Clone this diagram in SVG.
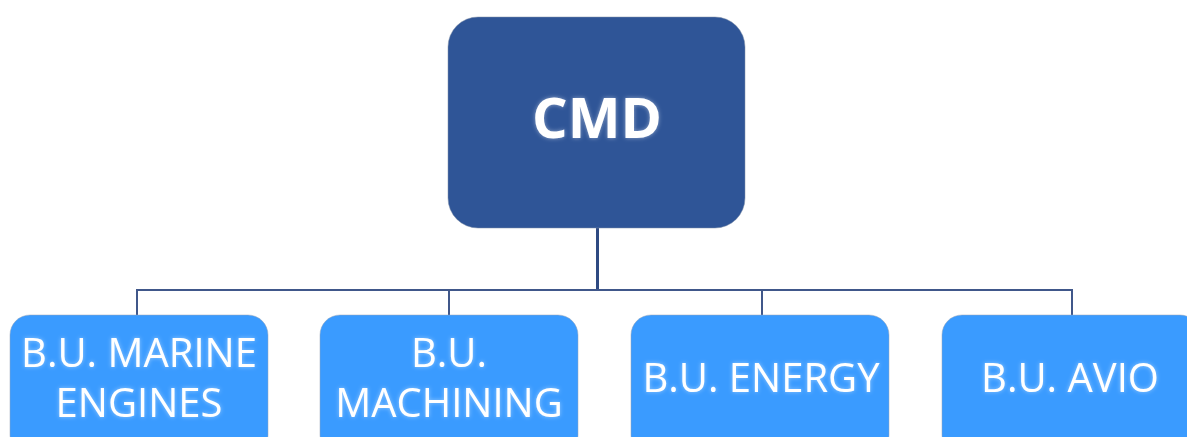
<svg xmlns="http://www.w3.org/2000/svg" width="1187" height="437" viewBox="0 0 1187 437">
  <defs>
    <filter id="glow" x="-10%" y="-30%" width="120%" height="160%">
      <feGaussianBlur in="SourceAlpha" stdDeviation="2" result="b"/>
      <feFlood flood-color="#ffffff" flood-opacity="0.45"/>
      <feComposite operator="in" in2="b" result="g"/>
      <feMerge><feMergeNode in="g"/><feMergeNode in="SourceGraphic"/></feMerge>
    </filter>
  </defs>
  <style>
    .root { fill: #2f5597; stroke: #7f8fa8; stroke-opacity: 0.5; stroke-width: 1; }
    .unit { fill: #3a9bff; stroke: #9aa6b8; stroke-opacity: 0.5; stroke-width: 1; }
    .link { fill: none; stroke: #40578a; stroke-width: 2; }
    .trunk { fill: none; stroke: #2f4a82; stroke-width: 3; }
    text { fill: #ffffff; font-family: "Open Sans", "Liberation Sans", sans-serif; text-anchor: middle; }
    .big { font-size: 56px; font-weight: bold; }
    .lbl { font-size: 40px; }
  </style>

  <!-- connectors -->
  <g id="connectors">
    <line class="trunk" x1="597.5" y1="228" x2="597.5" y2="290"/>
    <polyline class="link" points="137,315 137,290 1072,290 1072,315"/>
    <line class="link" x1="449" y1="290" x2="449" y2="315"/>
    <line class="link" x1="762" y1="290" x2="762" y2="315"/>
  </g>

  <g id="node-cmd">
    <rect class="root" x="448" y="17" width="297" height="211" rx="30" ry="30"/>
    <text class="big" x="597" y="138" filter="url(#glow)">CMD</text>
  </g>

  <g id="node-marine">
    <rect class="unit" x="10" y="315" width="258" height="140" rx="20" ry="20"/>
    <text class="lbl" x="139" y="367" filter="url(#glow)">B.U. MARINE</text>
    <text class="lbl" x="139" y="417" filter="url(#glow)">ENGINES</text>
  </g>

  <g id="node-machining">
    <rect class="unit" x="320" y="315" width="258" height="140" rx="20" ry="20"/>
    <text class="lbl" x="449" y="367" filter="url(#glow)">B.U.</text>
    <text class="lbl" x="449" y="417" filter="url(#glow)">MACHINING</text>
  </g>

  <g id="node-energy">
    <rect class="unit" x="631" y="315" width="258" height="140" rx="20" ry="20"/>
    <text class="lbl" x="761" y="392" filter="url(#glow)">B.U. ENERGY</text>
  </g>

  <g id="node-avio">
    <rect class="unit" x="942" y="315" width="258" height="140" rx="20" ry="20"/>
    <text class="lbl" x="1070" y="392" filter="url(#glow)">B.U. AVIO</text>
  </g>
</svg>
